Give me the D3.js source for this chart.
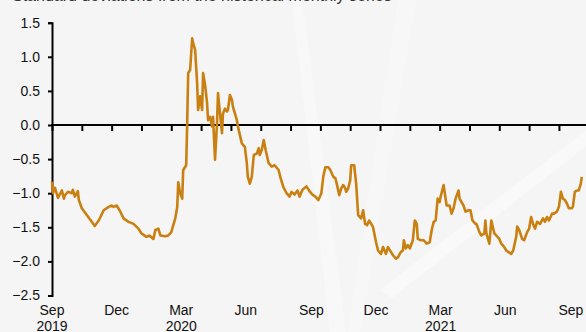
<!DOCTYPE html>
<html>
<head>
<meta charset="utf-8">
<script src="https://cdn.jsdelivr.net/npm/d3@7"></script>
<style>
  body { margin: 0; background: #f6f6f6; }
  svg { display: block; font-family: Arial, 'Liberation Sans', sans-serif; }
</style>
</head>
<body>
<svg width="586" height="332"></svg>
<script>
// business-day index since start of Sep 2019, and the z-score
const dayIdx = [0, 1, 3, 6, 10, 12, 13, 16, 20, 21, 23, 25, 26, 27, 30, 35, 40, 43, 47, 52,
  57, 60, 62, 65, 68, 72, 77, 82, 87, 90, 95, 98, 102, 104, 107, 109, 114, 117, 120, 124,
  126, 127, 129, 131, 132, 135, 136, 137, 139, 141, 142, 144, 146, 147, 149, 151, 152, 154, 156, 157,
  159, 161, 162, 164, 166, 167, 169, 171, 172, 174, 176, 177, 179, 181, 182, 186, 187, 191, 194, 196,
  197, 199, 201, 203, 206, 208, 209, 211, 213, 215, 218, 221, 224, 228, 230, 233, 236, 239, 241, 244,
  247, 249, 252, 256, 259, 262, 265, 268, 271, 273, 275, 278, 280, 283, 285, 286, 289, 291, 293, 295,
  296, 298, 300, 301, 304, 306, 308, 311, 313, 315, 317, 319, 322, 323, 326, 328, 331, 333, 336, 338,
  341, 343, 346, 348, 351, 353, 354, 356, 358, 360, 363, 365, 367, 368, 371, 374, 377, 380, 382, 384,
  386, 388, 390, 391, 394, 395, 397, 400, 402, 404, 406, 409, 410, 412, 414, 416, 419, 421, 423, 426,
  427, 430, 432, 435, 436, 437, 440, 442, 445, 447, 450, 452, 455, 457, 459, 462, 464, 467, 468, 470,
  473, 475, 478, 480, 482, 484, 486, 488, 491, 494, 496, 498, 500, 503, 505, 508, 510, 512, 514, 516,
  518, 520, 523, 524, 526, 528, 530, 532, 533]

const zScore = [-0.83, -1.0, -0.92, -1.07, -0.96, -1.08, -1.03, -0.98, -1.0, -0.95, -1.05, -1.0, -0.97, -1.1, -1.22, -1.32, -1.42, -1.48, -1.4, -1.25,
  -1.2, -1.18, -1.2, -1.18, -1.25, -1.37, -1.42, -1.45, -1.52, -1.59, -1.64, -1.62, -1.67, -1.54, -1.52, -1.62, -1.63, -1.62, -1.57, -1.37,
  -1.2, -0.84, -1.0, -1.08, -0.66, -0.59, 0.02, 0.76, 0.81, 1.27, 1.2, 1.1, 0.61, 0.22, 0.42, 0.22, 0.76, 0.59, 0.32, 0.07,
  0.12, -0.02, 0.12, -0.51, 0.02, 0.47, 0.17, -0.12, 0.17, 0.24, 0.2, 0.22, 0.44, 0.37, 0.27, 0.07, -0.02, -0.27, -0.32, -0.56,
  -0.76, -0.86, -0.76, -0.44, -0.42, -0.34, -0.44, -0.37, -0.22, -0.37, -0.56, -0.61, -0.59, -0.66, -0.78, -0.92, -1.0, -1.05, -0.98, -1.02,
  -0.96, -1.05, -0.95, -0.9, -0.97, -1.02, -1.05, -1.1, -1.0, -0.75, -0.62, -0.62, -0.66, -0.76, -0.78, -0.83, -1.03, -0.93, -0.88, -0.93,
  -0.98, -0.93, -0.81, -0.59, -0.59, -0.86, -1.32, -1.37, -1.25, -1.45, -1.47, -1.4, -1.47, -1.5, -1.72, -1.84, -1.89, -1.79, -1.89, -1.79,
  -1.86, -1.91, -1.96, -1.94, -1.86, -1.84, -1.69, -1.81, -1.76, -1.81, -1.69, -1.4, -1.45, -1.67, -1.69, -1.69, -1.74, -1.72, -1.54, -1.42,
  -1.4, -1.08, -1.13, -1.05, -0.88, -0.98, -1.18, -1.18, -1.3, -1.22, -1.08, -0.96, -1.08, -1.13, -1.18, -1.27, -1.25, -1.25, -1.4, -1.45,
  -1.45, -1.57, -1.62, -1.59, -1.4, -1.59, -1.74, -1.4, -1.59, -1.62, -1.67, -1.74, -1.79, -1.84, -1.86, -1.89, -1.84, -1.64, -1.49, -1.54,
  -1.67, -1.69, -1.57, -1.52, -1.35, -1.45, -1.52, -1.42, -1.45, -1.37, -1.42, -1.35, -1.4, -1.3, -1.3, -1.27, -1.2, -0.98, -1.08, -1.1,
  -1.15, -1.22, -1.22, -1.2, -0.98, -0.96, -0.96, -0.86, -0.76]

const yTicks = [1.5, 1.0, 0.5, 0.0, -0.5, -1.0, -1.5, -2.0, -2.5]
const monthLabels = ['Sep', 'Dec', 'Mar', 'Jun', 'Sep', 'Dec', 'Mar', 'Jun', 'Sep']
const yearLabels = ['2019', '', '2020', '', '', '', '2021', '', '']
const labelIdx = [0, 65, 130, 195, 261, 326, 391, 456, 522]
const titleText = 'Standard deviations from the historical monthly series'

const svg = d3.select('svg')
const width = +svg.attr('width')

// faint background streaks
const bg = svg.append('g')
bg.append('rect').attr('width', 586).attr('height', 332).attr('fill', '#f5f5f5')
bg.append('path').attr('d', 'M330,332 L346,332 L302,0 L292,0 Z').attr('fill', '#ffffff').attr('opacity', 0.35)
bg.append('path').attr('d', 'M380,290 L586,130 L586,146 L392,298 Z').attr('fill', '#ffffff').attr('opacity', 0.4)
bg.append('path').attr('d', 'M398,0 L416,0 L360,332 L348,332 Z').attr('fill', '#ffffff').attr('opacity', 0.25)

const x = d3.scaleLinear()
  .domain([0, 534])
  .range([52, 52 + 534 * 0.994])

const y = d3.scaleLinear()
  .domain([-2.5, 1.5])
  .range([295.5, 22.7])

svg.append('text')
  .attr('x', 12)
  .attr('y', 1)
  .attr('font-size', 16)
  .attr('fill', '#333')
  .text(titleText)

const yAxis = d3.axisLeft(y)
  .tickValues(yTicks)
  .tickFormat(d3.format('.1f'))
  .tickSize(4)
  .tickSizeOuter(4)
  .tickPadding(8)

const gy = svg.append('g')
  .attr('transform', 'translate(' + x(0) + ',0)')
  .call(yAxis)
gy.selectAll('path, line').attr('stroke', '#000').attr('stroke-width', 2)
gy.selectAll('text').attr('font-size', 14).attr('fill', '#111').attr('font-family', 'Arial, Liberation Sans, sans-serif')

const xAxis = d3.axisBottom(x)
  .tickValues(d3.range(0, 534, 30))
  .tickFormat('')
  .tickSize(6)
  .tickSizeOuter(0)

const gx = svg.append('g')
  .attr('transform', 'translate(0,' + y(0) + ')')
  .call(xAxis)
gx.select('.domain').remove()
gx.selectAll('line').attr('stroke', '#000').attr('stroke-width', 2)
gx.append('line')
  .attr('x1', x(0) - 1)
  .attr('x2', width)
  .attr('stroke', '#000')
  .attr('stroke-width', 2)

const labels = svg.append('g')
  .selectAll('text')
  .data(labelIdx)
  .enter()
  .append('text')
  .attr('text-anchor', 'middle')
  .attr('font-size', 14)
  .attr('fill', '#111')
labels.append('tspan')
  .attr('x', function (d) { return x(d) })
  .attr('y', 315)
  .text(function (d, i) { return monthLabels[i] })
labels.append('tspan')
  .attr('x', function (d) { return x(d) })
  .attr('y', 331)
  .text(function (d, i) { return yearLabels[i] })

const line = d3.line()
  .x(function (d) { return x(d[0]) })
  .y(function (d) { return y(d[1]) })

svg.append('path')
  .datum(dayIdx.map(function (d, i) { return [d, zScore[i]] }))
  .attr('d', line)
  .attr('fill', 'none')
  .attr('stroke', '#c98010')
  .attr('stroke-width', 2.6)
  .attr('stroke-linejoin', 'round')
</script>
</body>
</html>
